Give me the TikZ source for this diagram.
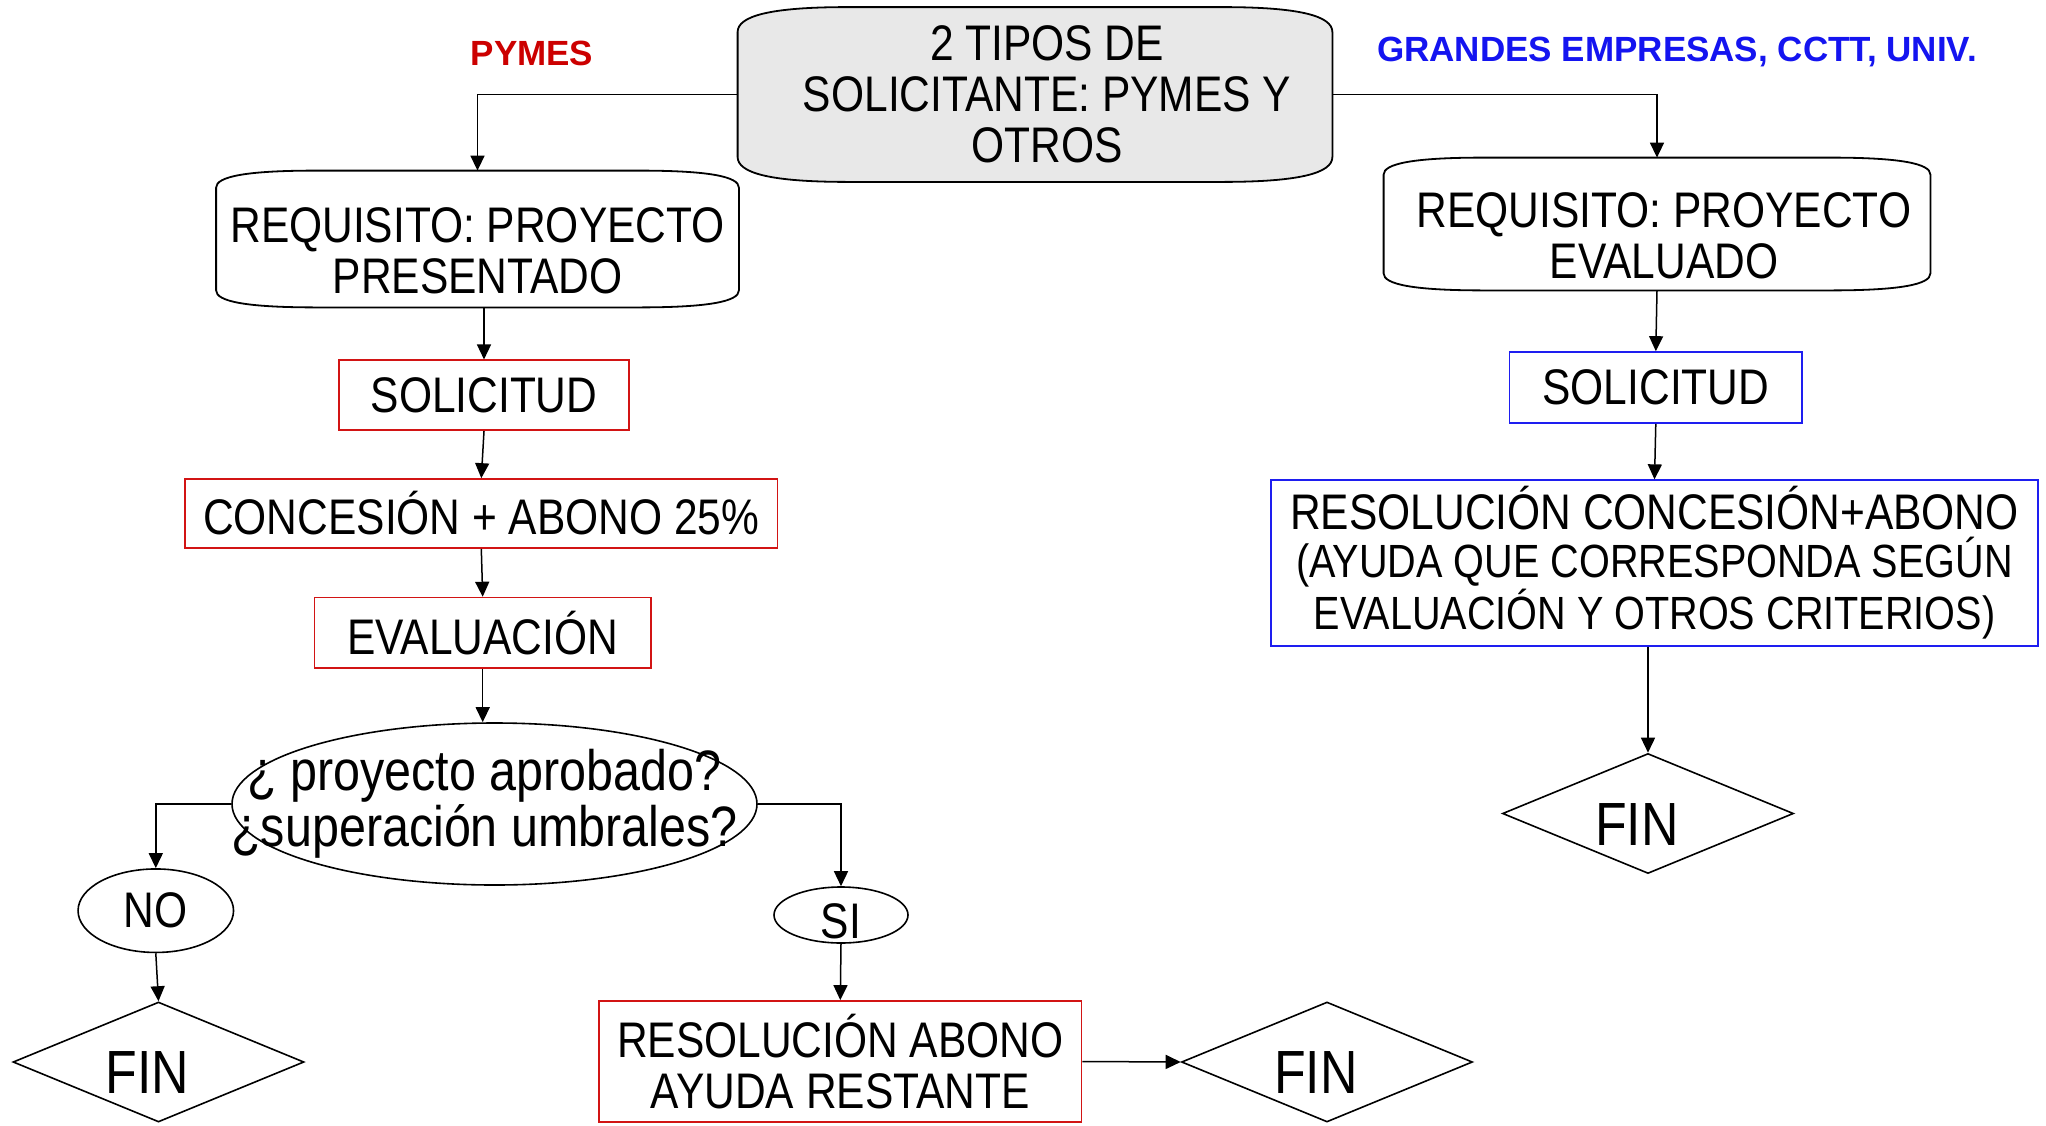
\documentclass[tikz,border=0pt]{standalone}
\usepackage{fontspec}
\setmainfont[FakeStretch=0.85]{Liberation Sans}
\newfontfamily\lblfont{Liberation Sans}
\usetikzlibrary{shapes.geometric,arrows.meta,calc,backgrounds}
\definecolor{boxred}{RGB}{210,20,20}
\definecolor{boxblue}{RGB}{30,30,240}
\definecolor{lblred}{RGB}{204,0,0}
\definecolor{lblblue}{RGB}{20,20,240}
\definecolor{topfill}{RGB}{232,232,232}
\newcommand\bowbox[4]{%
\draw[#4] ($(#1.north west)+(0,#3)$) .. controls ($(#1.north west)+(0,0.35*#3)$) and ($(#1.north west)+(0.3*#2,0)$) .. ($(#1.north west)+(#2,0)$)
 -- ($(#1.north east)+(-#2,0)$) .. controls ($(#1.north east)+(-0.3*#2,0)$) and ($(#1.north east)+(0,0.35*#3)$) .. ($(#1.north east)+(0,#3)$)
 -- ($(#1.south east)+(0,-#3)$) .. controls ($(#1.south east)+(0,-0.35*#3)$) and ($(#1.south east)+(-0.3*#2,0)$) .. ($(#1.south east)+(-#2,0)$)
 -- ($(#1.south west)+(#2,0)$) .. controls ($(#1.south west)+(0.3*#2,0)$) and ($(#1.south west)+(0,-0.35*#3)$) .. ($(#1.south west)+(0,-#3)$)
 -- cycle;}
\begin{document}
\begin{tikzpicture}[x=0.5pt,y=-0.5pt,
 txt/.style={font=\fontsize{25}{25.5}\selectfont, align=center, inner sep=0pt},
 bow/.style={txt, rectangle},
 redbox/.style={txt, rectangle, draw=boxred, line width=0.85pt},
 bluebox/.style={txt, rectangle, draw=boxblue, line width=0.85pt},
 oval/.style={txt, ellipse, draw, line width=0.8pt},
 findiam/.style={diamond, draw, line width=0.8pt, inner sep=0pt, aspect=2.4, minimum width=145.5pt, minimum height=60pt, font=\fontsize{30.5}{30.5}\selectfont},
 arr/.style={-{Triangle[length=7.5pt,width=7pt]}, line width=0.75pt},
 lbl/.style={font=\lblfont\bfseries\fontsize{17.5}{20}\selectfont, inner sep=0pt}]
\useasboundingbox (0,0) rectangle (2046,1125);

\node[bow, minimum width=297pt, minimum height=87pt] (top) at (1035,94.5) {\hspace*{12pt}2 TIPOS DE\\\hspace*{12pt}SOLICITANTE: PYMES Y\\\hspace*{12pt}OTROS};
\node[bow, minimum width=261pt, minimum height=68pt] (reqL) at (477.5,239) {\rule{0pt}{29pt}REQUISITO: PROYECTO\\PRESENTADO};
\node[bow, minimum width=273pt, minimum height=66pt] (reqR) at (1657,224) {\rule{0pt}{29pt}\hspace*{7pt}REQUISITO: PROYECTO\\\hspace*{7pt}EVALUADO};
\begin{scope}[on background layer]
\fill[white] (0,0) rectangle (2046,1125);
\bowbox{top}{110}{25}{fill=topfill, line width=0.9pt}
\bowbox{reqL}{100}{17}{line width=0.9pt}
\bowbox{reqR}{100}{17}{line width=0.9pt}
\end{scope}

\node[lbl, text=lblred] (pymes) at (532,53) {PYMES};
\node[lbl, text=lblblue] (grandes) at (1677,52) {GRANDES EMPRESAS, CCTT, UNIV.};

\node[redbox, minimum width=145pt, minimum height=35pt] (solL) at (484,395.3) {SOLICITUD};
\node[redbox, minimum width=296.3pt, minimum height=34.5pt] (conc) at (481.3,513.5) {CONCESIÓN + ABONO 25\%};
\node[redbox, minimum width=168.3pt, minimum height=35.2pt] (eval) at (482.7,632.8) {EVALUACIÓN};
\node[oval, minimum width=262.5pt, minimum height=81pt, font=\fontsize{28.5}{28}\selectfont] (q) at (494.5,804) {\makebox[0pt]{¿ proyecto aprobado?\hspace{10pt}}\\\makebox[0pt]{¿superación umbrales?\hspace{10pt}}};
\node[oval, minimum width=77.75pt, minimum height=41.75pt] (no) at (155.8,910.7) {NO};
\node[oval, minimum width=67pt, minimum height=28pt] (si) at (841,915) {\raisebox{-11.5pt}[0pt][0pt]{SI}};
\node[redbox, minimum width=241.3pt, minimum height=60.5pt] (resAb) at (840.3,1061.5) {RESOLUCIÓN ABONO\\AYUDA RESTANTE};
\node[findiam] (fin1) at (158.5,1062) {\rule{0pt}{31.8pt}FIN\kern11pt};
\node[findiam] (fin2) at (1327,1062) {\rule{0pt}{31.8pt}FIN\kern11pt};

\node[bluebox, minimum width=146.2pt, minimum height=35.5pt] (solR) at (1655.8,387.5) {SOLICITUD};
\node[bluebox, minimum width=383.5pt, minimum height=82.8pt, font=\fontsize{23.3}{24}\selectfont] (resR) at (1654.5,563) {{\fontsize{25}{24}\selectfont RESOLUCIÓN CONCESIÓN+ABONO}\\(AYUDA QUE CORRESPONDA SEGÚN\\EVALUACIÓN Y OTROS CRITERIOS)};
\node[findiam] (fin3) at (1648,813.5) {\rule{0pt}{31.8pt}FIN\kern11pt};

\draw[arr] (top.west) -| (reqL.north);
\draw[arr] (top.east) -| (reqR.north);
\draw[arr] (reqL.south -| solL.north) -- (solL.north);
\draw[arr] (solL.south) -- (conc.north);
\draw[arr] (conc.south) -- (eval.north);
\draw[arr] (eval.south) -- (q.north -| eval.south);
\draw[arr] (q.west) -| (no.north);
\draw[arr] (q.east) -| (si.north);
\draw[arr] (no.south) -- (fin1.north);
\draw[arr] (si.south) -- (resAb.north);
\draw[arr] (resAb.east) -- (fin2.west);
\draw[arr] (reqR.south) -- (solR.north);
\draw[arr] (solR.south) -- (resR.north);
\draw[arr] (resR.south -| fin3.north) -- (fin3.north);
\end{tikzpicture}
\end{document}
